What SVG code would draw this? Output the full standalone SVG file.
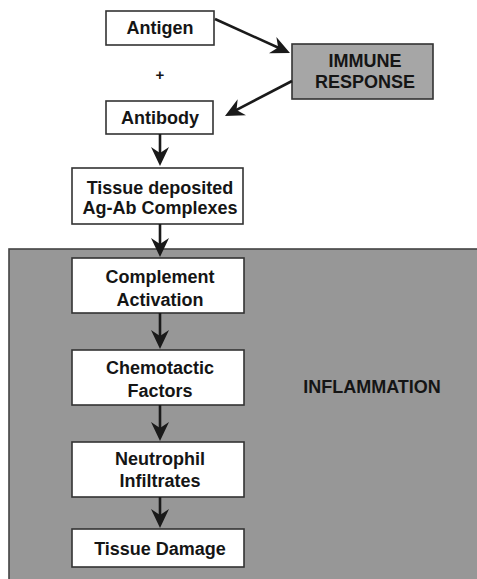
<svg xmlns="http://www.w3.org/2000/svg" width="477" height="579" viewBox="0 0 477 579">
<style>
  .box { fill: #ffffff; stroke: #333333; stroke-width: 1.6; }
  .lbl { font-family: "Liberation Sans", Arial, sans-serif; font-weight: bold; font-size: 18px; fill: #151515; text-anchor: middle; }
  .conn { stroke: #1a1a1a; stroke-width: 2.6; fill: none; marker-end: url(#ah); }
</style>
<defs>
  <marker id="ah" markerUnits="userSpaceOnUse" viewBox="-20 -10 21 20" markerWidth="21" markerHeight="20" refX="-6" refY="0" orient="auto">
    <path d="M0,0 L-19,-9 L-13,0 L-19,9 Z" fill="#1a1a1a"/>
  </marker>
</defs>
<rect width="477" height="579" fill="#ffffff"/>

<g id="inflammation">
  <rect x="9" y="249" width="480" height="340" fill="#979797" stroke="#444444" stroke-width="1.6"/>
  <text class="lbl" x="372" y="393">INFLAMMATION</text>
</g>

<g id="antigen">
  <rect class="box" x="106" y="11" width="108" height="34"/>
  <text class="lbl" x="160" y="34">Antigen</text>
</g>
<g id="plus">
  <text class="lbl" x="160" y="80" style="font-size:15px">+</text>
</g>
<g id="immune">
  <rect x="292" y="44" width="141" height="55" fill="#a6a6a6" stroke="#333333" stroke-width="1.6"/>
  <text class="lbl" x="365" y="67">IMMUNE</text>
  <text class="lbl" x="365" y="88">RESPONSE</text>
</g>
<g id="antibody">
  <rect class="box" x="106" y="101" width="107" height="33"/>
  <text class="lbl" x="160" y="124">Antibody</text>
</g>
<g id="complexes">
  <rect class="box" x="72" y="168" width="171" height="56"/>
  <text class="lbl" x="160" y="194">Tissue deposited</text>
  <text class="lbl" x="160" y="214">Ag-Ab Complexes</text>
</g>
<g id="complement">
  <rect class="box" x="72" y="258" width="172" height="55"/>
  <text class="lbl" x="160" y="283">Complement</text>
  <text class="lbl" x="160" y="306">Activation</text>
</g>
<g id="chemotactic">
  <rect class="box" x="72" y="350" width="172" height="55"/>
  <text class="lbl" x="160" y="374">Chemotactic</text>
  <text class="lbl" x="160" y="397">Factors</text>
</g>
<g id="neutrophil">
  <rect class="box" x="72" y="442" width="172" height="55"/>
  <text class="lbl" x="160" y="465">Neutrophil</text>
  <text class="lbl" x="160" y="487">Infiltrates</text>
</g>
<g id="damage">
  <rect class="box" x="72" y="529" width="172" height="38"/>
  <text class="lbl" x="160" y="555">Tissue Damage</text>
</g>

<g id="connectors">
  <line class="conn" x1="215" y1="19" x2="284.5" y2="50.5"/>
  <line class="conn" x1="292" y1="81" x2="230.3" y2="113.2"/>
  <line class="conn" x1="160" y1="134" x2="160" y2="160"/>
  <line class="conn" x1="160" y1="224" x2="160" y2="251"/>
  <line class="conn" x1="160" y1="313" x2="160" y2="343"/>
  <line class="conn" x1="160" y1="405" x2="160" y2="435"/>
  <line class="conn" x1="160" y1="497" x2="160" y2="522"/>
</g>
</svg>
